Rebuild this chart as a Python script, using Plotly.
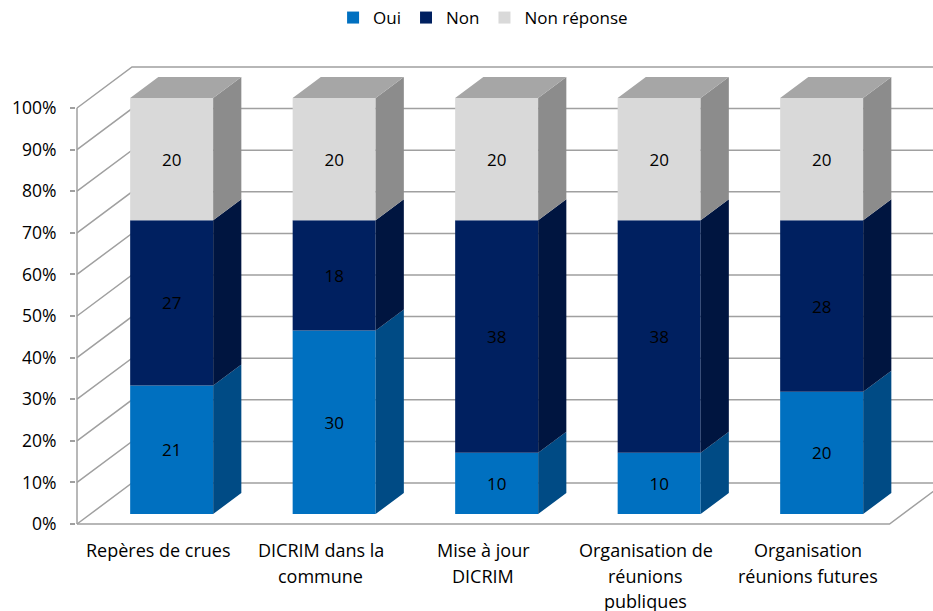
import plotly.graph_objects as go

# ---------------- data ----------------
categories = ["Repères de crues", "DICRIM dans la<br>commune", "Mise à jour<br>DICRIM",
              "Organisation de<br>réunions<br>publiques", "Organisation<br>réunions futures"]
oui = [21, 30, 10, 10, 20]
non = [27, 18, 38, 38, 28]
non_reponse = [20, 20, 20, 20, 20]
series_names = ["Oui", "Non", "Non réponse"]
y_ticks = [0, 10, 20, 30, 40, 50, 60, 70, 80, 90, 100]
y_tick_labels = ["0%", "10%", "20%", "30%", "40%", "50%", "60%", "70%", "80%", "90%", "100%"]

# ---------------- style ----------------
front_colors = ["#0070C0", "#002060", "#D9D9D9"]
side_colors = ["#004B85", "#001540", "#8C8C8C"]
top_color = "#A6A6A6"
grid_color = "#A0A0A0"
FONT = "Open Sans"

# geometry (pixel scale of the 3D box)
W, H = 933, 611
PL, PR, PT, PB = 76, 933, 50, 530
PX_CAT = 162.5
PX_PCT = 4.16
X_FRONT_LEFT_PX = 77
Y_ZERO_PX = 524
DX = 55 / PX_CAT          # wall depth in x units
DY = 41 / PX_PCT          # wall depth in y units
D_FRONT = 10 / 41         # bar front depth fraction
D_BACK = 31 / 41          # bar back depth fraction
BAR_W = 83 / PX_CAT

n = len(categories)
x_lo = -0.5
x_hi = n - 0.5
xa = x_lo - (X_FRONT_LEFT_PX - PL) / PX_CAT
xb = xa + (PR - PL) / PX_CAT
ya = -(PB - Y_ZERO_PX) / PX_PCT
yb = (Y_ZERO_PX - PT) / PX_PCT

series = [oui, non, non_reponse]
totals = [sum(s[i] for s in series) for i in range(n)]
pcts = [[s[i] / totals[i] * 100 for i in range(n)] for s in series]

fig = go.Figure()

# front faces
bases = [0.0] * n
seg_bounds = []
for k, s in enumerate(series):
    bnds = []
    for i in range(n):
        bnds.append((bases[i], bases[i] + pcts[k][i]))
    seg_bounds.append(bnds)
    fig.add_trace(go.Bar(
        x=[i + D_FRONT * DX for i in range(n)],
        y=pcts[k],
        base=[b + D_FRONT * DY for b in bases],
        width=BAR_W,
        name=series_names[k],
        marker=dict(color=front_colors[k], line=dict(width=0)),
        text=[str(v) for v in s],
        textposition="inside",
        insidetextanchor="middle",
        constraintext="none",
        textfont=dict(color="black", size=17, family=FONT),
        hoverinfo="skip",
    ))
    bases = [bases[i] + pcts[k][i] for i in range(n)]

# side faces
dd = D_BACK - D_FRONT
for k in range(len(series)):
    xs, ys = [], []
    for i in range(n):
        b, t = seg_bounds[k][i]
        xr = i + D_FRONT * DX + BAR_W / 2
        b += D_FRONT * DY
        t += D_FRONT * DY
        xs += [xr, xr + dd * DX, xr + dd * DX, xr, xr, None]
        ys += [b, b + dd * DY, t + dd * DY, t, b, None]
    fig.add_trace(go.Scatter(x=xs, y=ys, mode="lines", fill="toself",
                             fillcolor=side_colors[k], line=dict(width=0, color=side_colors[k]),
                             showlegend=False, hoverinfo="skip"))

# top faces
xs, ys = [], []
for i in range(n):
    t = seg_bounds[-1][i][1] + D_FRONT * DY
    xl = i + D_FRONT * DX - BAR_W / 2
    xr = i + D_FRONT * DX + BAR_W / 2
    xs += [xl, xl + dd * DX, xr + dd * DX, xr, xl, None]
    ys += [t, t + dd * DY, t + dd * DY, t, t, None]
fig.add_trace(go.Scatter(x=xs, y=ys, mode="lines", fill="toself",
                         fillcolor=top_color, line=dict(width=0, color=top_color),
                         showlegend=False, hoverinfo="skip"))

# walls / gridlines (below traces)
shapes = []
gl = dict(color=grid_color, width=1.5)
for t in y_ticks:
    shapes.append(dict(type="path", xref="x", yref="y", layer="below", line=gl,
                       path=f"M {x_lo},{t} L {x_lo + DX},{t + DY} L {x_hi + DX},{t + DY}"))
shapes.append(dict(type="line", xref="x", yref="y", layer="below", line=gl,
                   x0=x_lo, y0=y_ticks[0], x1=x_lo, y1=y_ticks[-1]))
shapes.append(dict(type="path", xref="x", yref="y", layer="below", line=gl,
                   path=f"M {x_lo},{y_ticks[0]} L {x_hi},{y_ticks[0]} L {x_hi + DX},{y_ticks[0] + DY}"))

# category labels
annotations = []
for i, c in enumerate(categories):
    for j, line in enumerate(c.split("<br>")):
        annotations.append(dict(x=i, y=0, xref="x", yref="y", text=line, showarrow=False,
                                xanchor="center", yanchor="middle", yshift=-(26 + 25.5 * j),
                                font=dict(size=18, family=FONT, color="#000000")))

fig.update_layout(
    width=W, height=H,
    margin=dict(l=PL, r=W - PR, t=PT, b=H - PB, pad=0, autoexpand=False),
    paper_bgcolor="white", plot_bgcolor="white",
    barmode="overlay",
    shapes=shapes,
    annotations=annotations,
    showlegend=True,
    legend=dict(orientation="h", x=0.475, xanchor="center", y=(PB - 18) / (PB - PT), yanchor="middle",
                font=dict(size=17, family=FONT, color="#000000"), traceorder="normal",
                itemclick=False, itemwidth=30, tracegroupgap=0),
    xaxis=dict(range=[xa, xb], visible=False, fixedrange=True),
    yaxis=dict(range=[ya, yb], tickvals=y_ticks, ticktext=y_tick_labels,
               showgrid=False, zeroline=False, showline=False,
               ticks="outside", ticklen=5, tickcolor=grid_color, tickwidth=1.5,
               ticklabelstandoff=10, automargin=False,
               tickfont=dict(size=17.5, family=FONT, color="#000000"), fixedrange=True),
    font=dict(family=FONT),
)

fig.write_html("out.html", config={"displayModeBar": False},
               post_script="document.body.style.margin='0px';")
